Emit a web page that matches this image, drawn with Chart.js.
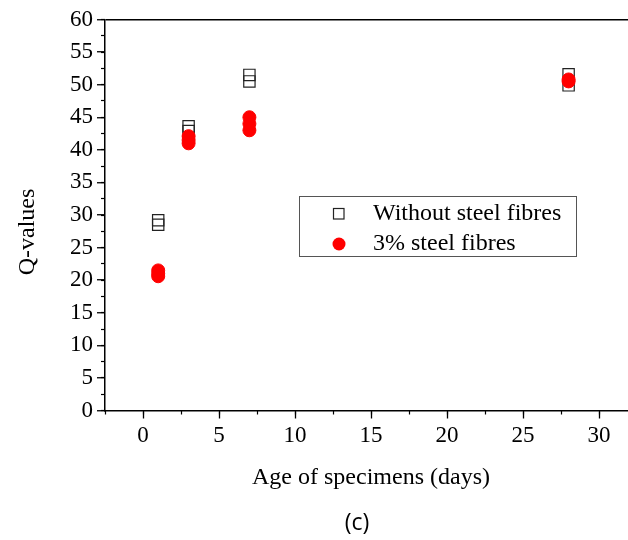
<!DOCTYPE html>
<html>
<head>
<meta charset="utf-8">
<script src="https://cdn.jsdelivr.net/npm/chart.js@4.4.1/dist/chart.umd.min.js"></script>
<style>
  html, body { margin: 0; padding: 0; background: #fff; overflow: hidden; }
</style>
</head>
<body>
<canvas id="canvasq" width="660" height="540"></canvas>
<script>
// Q-values vs age
var agesPlain = [1, 1, 3, 3, 7, 7, 28, 28];
var qPlain = [29.2, 28.5, 43.6, 42.9, 51.5, 50.5, 51.6, 49.9];
var agesFibre = [1, 1, 1, 3, 3, 3, 7, 7, 7, 28, 28];
var qFibre = [21.5, 21.0, 20.6, 42.1, 41.5, 41.0, 45.0, 44.0, 43.0, 50.8, 50.5];
var seriesNames = ['Without steel fibres', '3% steel fibres'];
var xTicks = [0, 5, 10, 15, 20, 25, 30];
var yTicks = [0, 5, 10, 15, 20, 25, 30, 35, 40, 45, 50, 55, 60];
var xTitle = 'Age of specimens (days)';
var yTitle = 'Q-values';
var caption = '(c)';

var serif = "'Liberation Serif', 'Times New Roman', serif";

function toPoints(xs, ys) {
  return xs.map(function(x, i) { return {x: x, y: ys[i]}; });
}

function setTicks(list) {
  return function(scale) {
    scale.ticks = list.map(function(v) { return {value: v}; });
  };
}

// legend box drawn inside the plot, like the original figure
var legendBox = {
  id: 'legendBox',
  afterDatasetsDraw: function(chart) {
    var c = chart.ctx;
    c.save();
    c.strokeStyle = '#555';
    c.lineWidth = 1;
    c.strokeRect(299.5, 196.5, 277, 60);
    c.font = '24px ' + serif;
    c.fillStyle = '#000';
    c.textBaseline = 'middle';
    c.textAlign = 'left';
    chart.data.datasets.forEach(function(ds, i) {
      var y = 213.5 + i * 30.5;
      if (ds.pointStyle === 'rect') {
        c.strokeStyle = ds.borderColor;
        c.lineWidth = 1.2;
        c.strokeRect(333.5, y - 5, 10.5, 10.5);
      } else {
        c.fillStyle = ds.backgroundColor;
        c.beginPath();
        c.arc(339, y, 6.5, 0, Math.PI * 2);
        c.fill();
        c.fillStyle = '#000';
      }
      c.fillText(ds.label, 373, y);
    });
    c.restore();
  }
};

// y title drawn a bit below the middle of the axis, as in the figure
var yTitleText = {
  id: 'yTitleText',
  afterDraw: function(chart) {
    var c = chart.ctx;
    c.save();
    c.translate(28, 232);
    c.rotate(-Math.PI / 2);
    c.font = '24px ' + serif;
    c.fillStyle = '#000';
    c.textAlign = 'center';
    c.textBaseline = 'middle';
    c.fillText(yTitle, 0, 0);
    c.restore();
  }
};

var captionText = {
  id: 'captionText',
  afterDraw: function(chart) {
    var c = chart.ctx;
    c.save();
    c.font = "23px 'Open Sans', sans-serif";
    c.fillStyle = '#000';
    c.textAlign = 'center';
    c.textBaseline = 'middle';
    c.fillText(caption, 357, 523);
    c.restore();
  }
};

var ctx = document.getElementById('canvasq').getContext('2d');

var chart = new Chart(ctx, {
  type: 'scatter',
  data: {
    datasets: [
      {
        label: seriesNames[0],
        data: toPoints(agesPlain, qPlain),
        pointStyle: 'rect',
        pointRadius: 8,
        borderColor: '#222',
        backgroundColor: 'rgba(0,0,0,0)',
        borderWidth: 1.2,
        order: 1
      },
      {
        label: seriesNames[1],
        data: toPoints(agesFibre, qFibre),
        pointStyle: 'circle',
        pointRadius: 6.5,
        borderColor: '#ff0000',
        backgroundColor: '#ff0000',
        borderWidth: 1,
        order: 0
      }
    ]
  },
  options: {
    responsive: false,
    animation: false,
    layout: { padding: { left: 0, top: 19.5, right: 23, bottom: 40 } },
    plugins: {
      legend: { display: false },
      tooltip: { enabled: false }
    },
    scales: {
      x: {
        type: 'linear',
        position: 'bottom',
        min: -2.5,
        max: 32.5,
        afterBuildTicks: setTicks(xTicks),
        afterFit: function(s) { s.height = 89.5; },
        border: { display: true, color: '#000', width: 1.5 },
        grid: { drawOnChartArea: false, drawTicks: true, tickLength: 8, tickColor: '#000', tickWidth: 1.3 },
        ticks: { padding: 4, color: '#000', font: { family: serif, size: 23 } },
        title: { display: true, text: xTitle, color: '#000', font: { family: serif, size: 24 }, padding: { top: 0, bottom: 7.6 } }
      },
      xMinor: {
        type: 'linear',
        position: 'bottom',
        weight: -1,
        min: -2.5,
        max: 32.5,
        afterFit: function(s) { s.height = 0; },
        border: { display: false },
        grid: { drawOnChartArea: false, drawTicks: true, tickLength: 4, tickColor: '#000', tickWidth: 1.2 },
        ticks: { stepSize: 2.5, display: false }
      },
      y: {
        type: 'linear',
        position: 'left',
        min: 0,
        max: 60,
        afterBuildTicks: setTicks(yTicks),
        afterFit: function(s) { s.width = 105; },
        border: { display: true, color: '#000', width: 1.5 },
        grid: {
          drawOnChartArea: true,
          drawTicks: true,
          tickLength: 8,
          tickColor: '#000',
          tickWidth: 1.3,
          lineWidth: 1.5,
          color: function(c) { return c.tick && c.tick.value === 60 ? '#000' : 'rgba(0,0,0,0)'; }
        },
        ticks: { padding: 4, color: '#000', font: { family: serif, size: 23 } },
        title: { display: false }
      },
      yMinor: {
        type: 'linear',
        position: 'left',
        weight: -1,
        min: 0,
        max: 60,
        afterFit: function(s) { s.width = 0; },
        border: { display: false },
        grid: { drawOnChartArea: false, drawTicks: true, tickLength: 4, tickColor: '#000', tickWidth: 1.2 },
        ticks: { stepSize: 2.5, display: false }
      }
    }
  },
  plugins: [legendBox, yTitleText, captionText]
});
</script>
</body>
</html>
